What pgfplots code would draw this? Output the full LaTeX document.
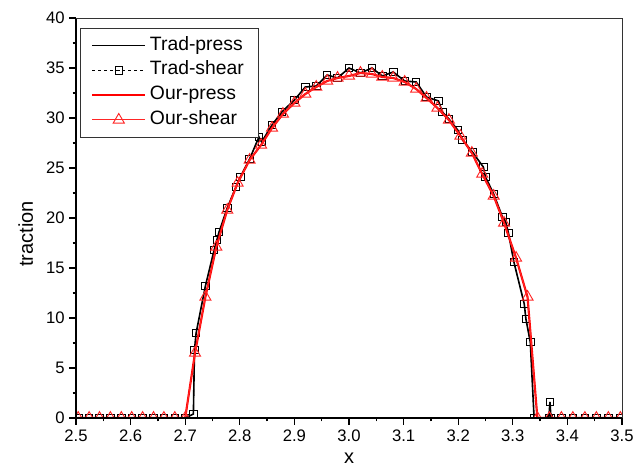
\documentclass[border=0pt]{standalone}
\usepackage{fontspec}
\setmainfont{Liberation Sans}
\usepackage{pgfplots}
\usepackage{pgfplotstable}
\pgfplotsset{compat=1.18}

% traditional scheme: contact traction along x
\pgfplotstableread{
x y
2.504 0
2.524 0
2.543 0
2.563 0
2.583 0
2.602 0
2.622 0
2.642 0
2.661 0
2.681 0
2.700 0
2.715 0.4
2.717 6.8
2.720 8.5
2.737 13.2
2.753 16.8
2.758 17.8
2.762 18.6
2.777 21.0
2.793 23.1
2.801 24.1
2.818 25.9
2.835 28.1
2.840 27.6
2.859 29.3
2.877 30.6
2.900 31.8
2.920 33.1
2.940 33.2
2.960 34.3
2.979 34.0
3.000 35.0
3.021 34.5
3.042 35.0
3.061 34.2
3.081 34.6
3.102 33.7
3.123 33.6
3.142 32.1
3.164 31.7
3.171 30.6
3.183 29.9
3.199 28.8
3.208 27.8
3.226 26.6
3.246 25.1
3.250 24.1
3.265 22.4
3.281 20.1
3.287 19.6
3.292 18.5
3.302 15.6
3.321 11.4
3.324 9.9
3.332 7.6
3.339 0
3.366 0
3.368 1.6
3.370 0
3.389 0
3.410 0
3.432 0
3.453 0
3.475 0
3.497 0
}\tradtab

% proposed scheme: contact traction along x
\pgfplotstableread{
x y
2.504 0
2.524 0
2.543 0
2.563 0
2.583 0
2.602 0
2.622 0
2.642 0
2.661 0
2.681 0
2.700 0
2.718 6.5
2.737 12.1
2.757 17.1
2.777 20.8
2.796 23.5
2.818 25.8
2.839 27.3
2.859 29.0
2.879 30.4
2.900 31.5
2.920 32.4
2.940 33.1
2.960 33.7
2.979 34.0
3.000 34.2
3.021 34.5
3.042 34.4
3.061 34.1
3.081 34.0
3.102 33.6
3.123 32.9
3.142 32.0
3.162 31.0
3.183 29.8
3.204 28.2
3.225 26.5
3.244 24.4
3.265 22.2
3.284 19.5
3.306 16.0
3.327 12.1
3.345 0
3.367 0
3.389 0
3.410 0
3.432 0
3.453 0
3.475 0
3.497 0
}\ourtab

\begin{document}
\begin{tikzpicture}
\path[use as bounding box] (-57pt,-36pt) rectangle (418.5pt,313.5pt);
\begin{axis}[
  at={(0,0)}, anchor=south west,
  scale only axis, width=409.5pt, height=300pt,
  xmin=2.5, xmax=3.5, ymin=0, ymax=40,
  xtick={2.5,2.6,2.7,2.8,2.9,3.0,3.1,3.2,3.3,3.4,3.5},
  ytick={0,5,10,15,20,25,30,35,40},
  minor x tick num=1, minor y tick num=1,
  tick align=outside,
  axis x line*=bottom, axis y line*=left,
  axis line style={line width=1.3pt, black},
  major tick length=5pt, minor tick length=2.6pt,
  tick style={line width=1pt, black},
  /pgf/number format/assume math mode=true,
  tick label style={font=\fontsize{12.5}{14}\selectfont},
  xticklabel style={/pgf/number format/.cd, fixed, fixed zerofill, precision=1},
  xlabel={x}, ylabel={traction},
  label style={font=\fontsize{15}{17}\selectfont},
  xlabel style={at={(axis description cs:0.5,-0.1)}, anchor=center},
  ylabel style={at={(axis description cs:-0.092,0.46)}, anchor=center},
  clip marker paths=true,
  axis on top,
  legend style={at={(axis description cs:0.0073,0.976)}, anchor=north west,
    draw=black!80, line width=0.6pt, fill=white,
    font=\fontsize{14.5}{16}\selectfont,
    inner xsep=8pt, inner ysep=4pt, row sep=0.4pt,
    nodes={inner sep=2.6pt, text height=10pt, text depth=3pt},
    cells={anchor=west}},
  legend image code/.code={\draw[mark repeat=2, mark phase=2, #1]
    plot coordinates {(0pt,0pt) (20pt,0pt) (40pt,0pt)};},
  after end axis/.code={\draw[line width=0.6pt, black!80]
    (rel axis cs:0,1) -- (rel axis cs:1,1) -- (rel axis cs:1,0);},
]
\addplot[black, line width=1.2pt] table[x=x, y=y] {\tradtab};
\addlegendentry{Trad-press}
\addplot[black, line width=0.5pt, dash pattern=on 2.5pt off 2pt,
  mark=square, mark size=2.8pt,
  mark options={solid, fill=white, line width=0.6pt}] table[x=x, y=y] {\tradtab};
\addlegendentry{Trad-shear}
\addplot[red, line width=1.6pt] table[x=x, y=y] {\ourtab};
\addlegendentry{Our-press}
\addplot[red!85, line width=0.7pt, mark=triangle, mark size=4.8pt,
  mark options={solid, fill=white, line width=0.7pt}] table[x=x, y=y] {\ourtab};
\addlegendentry{Our-shear}
\end{axis}
\end{tikzpicture}
\end{document}
